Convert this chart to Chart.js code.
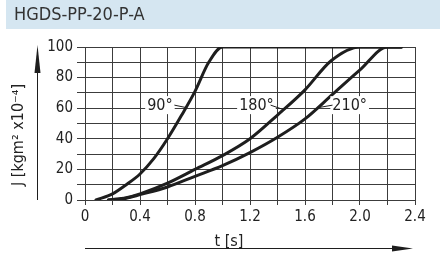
<!DOCTYPE html>
<html>
<head>
<meta charset="utf-8">
<script src="https://cdn.jsdelivr.net/npm/chart.js@4/dist/chart.umd.min.js"></script>
<style>
  html, body { margin: 0; padding: 0; background: #fff; }
  #wrap { width: 440px; height: 265px; position: relative; }
</style>
</head>
<body>
<div id="wrap"><canvas id="chart" width="440" height="265"></canvas></div>
<script>
// curve values (t in s, J in kgm2 x10^-4)
var t90 = [0.08, 0.2, 0.3, 0.4, 0.5, 0.6, 0.7, 0.8, 0.9, 1.0, 2.3];
var j90 = [0, 4, 10, 17, 27, 40, 55, 71, 90, 100, 100];

var t180 = [0.17, 0.3, 0.4, 0.6, 0.8, 1.0, 1.2, 1.4, 1.6, 1.79, 2.0, 2.3];
var j180 = [0, 1.5, 4, 11, 20, 29, 40, 55.5, 72, 91, 100, 100];

var t210 = [0.17, 0.3, 0.4, 0.6, 0.8, 1.0, 1.2, 1.4, 1.6, 1.8, 2.0, 2.2, 2.3];
var j210 = [0, 1.2, 3.5, 8.5, 15.5, 22.5, 31, 41, 53, 69, 85, 100, 100];

var xTickLabels = ['0', '0.4', '0.8', '1.2', '1.6', '2.0', '2.4'];
var yTickLabels = ['0', '20', '40', '60', '80', '100'];

// curve labels: text, label centre (t, J), leader end on the curve (t, J)
var curveLabels = [
  { text: '90°',  x: 0.545, y: 62, lx1: 0.65, ly1: 62, lx2: 0.73, ly2: 60.5 },
  { text: '180°', x: 1.247, y: 62, lx1: 1.35, ly1: 62, lx2: 1.43, ly2: 59.5 },
  { text: '210°', x: 1.925, y: 62, lx1: 1.80, ly1: 62, lx2: 1.705, ly2: 60.5 }
];

var FONT = '"Liberation Sans Narrow", "DejaVu Sans Condensed", "Liberation Sans", sans-serif';
var INK = '#1e1e1e';
var GRID = '#3c3c3c';

function toPoints(xs, ys) {
  var pts = [];
  for (var i = 0; i < xs.length; i++) pts.push({ x: xs[i], y: ys[i] });
  return pts;
}

function curve(xs, ys) {
  return {
    data: toPoints(xs, ys),
    borderColor: INK,
    borderWidth: 3,
    pointRadius: 0,
    cubicInterpolationMode: 'monotone',
    borderCapStyle: 'round',
    fill: false
  };
}

// band, axis titles and arrows
var decoPlugin = {
  id: 'deco',
  beforeDraw: function (chart) {
    var ctx = chart.ctx;
    var area = chart.chartArea;
    ctx.save();
    ctx.fillStyle = '#d5e6f1';
    ctx.fillRect(6, 0, 434, 29);
    ctx.fillStyle = '#333';
    ctx.font = '18px ' + FONT;
    ctx.textBaseline = 'middle';
    ctx.textAlign = 'left';
    ctx.fillText('HGDS-PP-20-P-A', 14, 15);

    // y arrow
    ctx.strokeStyle = INK;
    ctx.fillStyle = INK;
    ctx.lineWidth = 1;
    ctx.beginPath();
    ctx.moveTo(37.5, area.bottom);
    ctx.lineTo(37.5, 60);
    ctx.stroke();
    ctx.beginPath();
    ctx.moveTo(37.5, area.top - 2);
    ctx.lineTo(40.5, 73);
    ctx.lineTo(34.5, 73);
    ctx.closePath();
    ctx.fill();

    // x arrow
    ctx.beginPath();
    ctx.moveTo(area.left, 248.5);
    ctx.lineTo(400, 248.5);
    ctx.stroke();
    ctx.beginPath();
    ctx.moveTo(area.right - 2, 248.5);
    ctx.lineTo(392, 245.5);
    ctx.lineTo(392, 251.5);
    ctx.closePath();
    ctx.fill();

    // axis titles
    ctx.fillStyle = '#222';
    ctx.font = '16px ' + FONT;
    ctx.textAlign = 'center';
    ctx.textBaseline = 'alphabetic';
    ctx.fillText('t [s]', 229, 246);

    ctx.translate(23, 135);
    ctx.rotate(-Math.PI / 2);
    ctx.fillText('J [kgm² x10⁻⁴]', 0, 0);
    ctx.restore();
  },
  afterDatasetsDraw: function (chart) {
    var ctx = chart.ctx;
    var xs = chart.scales.x;
    var ys = chart.scales.y;
    ctx.save();
    ctx.font = '16px ' + FONT;
    ctx.textAlign = 'center';
    ctx.textBaseline = 'middle';
    curveLabels.forEach(function (l) {
      var cx = xs.getPixelForValue(l.x);
      var cy = ys.getPixelForValue(l.y);
      var w = ctx.measureText(l.text).width;
      ctx.fillStyle = '#fff';
      ctx.fillRect(cx - w / 2 - 2, cy - 9, w + 4, 18);
      ctx.fillStyle = '#222';
      ctx.fillText(l.text, cx, cy + 1);
      ctx.strokeStyle = INK;
      ctx.lineWidth = 1;
      ctx.beginPath();
      ctx.moveTo(xs.getPixelForValue(l.lx1), ys.getPixelForValue(l.ly1));
      ctx.lineTo(xs.getPixelForValue(l.lx2), ys.getPixelForValue(l.ly2));
      ctx.stroke();
    });
    ctx.restore();
  }
};

var ctx = document.getElementById('chart').getContext('2d');
var chart = new Chart(ctx, {
  type: 'line',
  data: {
    datasets: [curve(t90, j90), curve(t180, j180), curve(t210, j210)]
  },
  options: {
    responsive: false,
    animation: false,
    events: [],
    layout: { padding: { left: 0, right: 25, top: 47, bottom: 0 } },
    plugins: { legend: { display: false }, tooltip: { enabled: false } },
    scales: {
      x: {
        type: 'linear',
        min: 0,
        max: 2.4,
        afterFit: function (s) { s.height = 65; s.paddingLeft = 0; s.paddingRight = 0; },
        border: { color: GRID, width: 1 },
        grid: { color: GRID, lineWidth: 1, tickLength: 5 },
        ticks: {
          stepSize: 0.2,
          autoSkip: false,
          maxRotation: 0,
          padding: 3,
          color: '#222',
          font: { family: FONT, size: 15 },
          callback: function (v, i) { return i % 2 ? '' : xTickLabels[i / 2]; }
        }
      },
      y: {
        min: 0,
        max: 100,
        afterFit: function (s) { s.width = 85; s.paddingTop = 0; s.paddingBottom = 0; },
        border: { color: GRID, width: 1 },
        grid: { color: GRID, lineWidth: 1, tickLength: 8 },
        ticks: {
          stepSize: 10,
          autoSkip: false,
          padding: 4,
          color: '#222',
          font: { family: FONT, size: 15 },
          callback: function (v, i) { return i % 2 ? '' : yTickLabels[i / 2]; }
        }
      }
    }
  },
  plugins: [decoPlugin]
});
</script>
</body>
</html>
